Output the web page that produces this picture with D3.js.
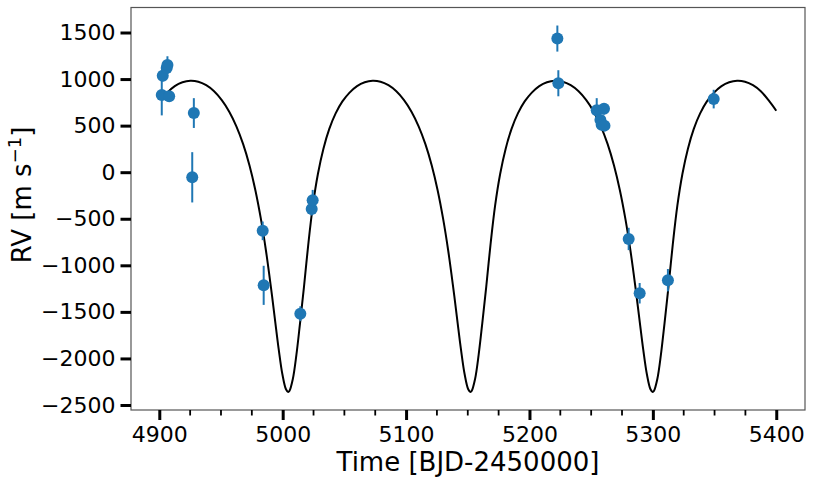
<!DOCTYPE html>
<html>
<head>
<meta charset="utf-8">
<script src="https://cdn.jsdelivr.net/npm/d3@7/dist/d3.min.js"></script>
<style>
  body { margin: 0; background: #fff; }
  text { font-family: "DejaVu Sans", sans-serif; fill: #000; }
</style>
</head>
<body>
<div id="chart"></div>
<script>
// observations: time (BJD-2450000), RV (m/s), error (m/s)
const obsTime = [4902.0, 4902.8, 4906.0, 4906.6, 4908.0, 4928.0, 4926.7, 4983.8, 4984.6,
                 5014.3, 5023.5, 5024.3, 5222.6, 5223.4, 5254.5, 5260.4, 5257.5, 5258.5,
                 5260.8, 5280.4, 5289.3, 5312.2, 5349.3];
const obsRV = [830, 1035, 1120, 1150, 815, 635, -55, -630, -1215,
               -1520, -395, -300, 1435, 955, 665, 680, 560, 510,
               500, -717, -1300, -1160, 785];
const obsErr = [220, 60, 60, 95, 50, 160, 270, 100, 210,
                80, 70, 110, 140, 140, 130, 60, 60, 60,
                60, 120, 110, 120, 100];

// model curve
const modelTime = [
  4902.00, 4906.50, 4912.54, 4918.78, 4925.16, 4931.59,
  4938.02, 4944.40, 4950.64, 4956.68, 4962.47, 4967.96, 4973.11, 4977.91, 4982.34, 4986.43,
  4990.17, 4993.62, 4996.81, 4999.80, 5002.66, 5004.44, 5005.44, 5008.22, 5011.08, 5014.07,
  5017.26, 5020.71, 5024.45, 5028.54, 5032.97, 5037.77, 5042.92, 5048.41, 5054.20, 5060.24,
  5066.48, 5072.86, 5079.29,
  5085.72, 5092.10, 5098.34, 5104.38, 5110.17, 5115.66, 5120.81, 5125.61, 5130.04, 5134.13,
  5137.87, 5141.32, 5144.51, 5147.50, 5150.36, 5152.14, 5153.14, 5155.92, 5158.78, 5161.77,
  5164.96, 5168.41, 5172.15, 5176.24, 5180.67, 5185.47, 5190.62, 5196.11, 5201.90, 5207.94,
  5214.18, 5220.56, 5226.99,
  5233.42, 5239.80, 5246.04, 5252.08, 5257.87, 5263.36, 5268.51, 5273.31, 5277.74, 5281.83,
  5285.57, 5289.02, 5292.21, 5295.20, 5298.06, 5299.84, 5300.84, 5303.62, 5306.48, 5309.47,
  5312.66, 5316.11, 5319.85, 5323.94, 5328.37, 5333.17, 5338.32, 5343.81, 5349.60, 5355.64,
  5361.88, 5368.26, 5374.69,
  5381.12, 5387.50, 5393.74, 5400.00
];
const modelRV = [
  781, 855, 925, 966, 982, 972,
  934, 869, 774, 650, 493, 301, 72, -196, -502, -841,
  -1204, -1569, -1905, -2173, -2331, -2360, -2350, -2221, -1965, -1620,
  -1232, -780, -360, -20, 250, 465, 632, 760, 855, 925,
  966, 982, 972,
  934, 869, 774, 650, 493, 301, 72, -196, -502, -841,
  -1204, -1569, -1905, -2173, -2331, -2360, -2350, -2221, -1965, -1620,
  -1232, -780, -360, -20, 250, 465, 632, 760, 855, 925,
  966, 982, 972,
  934, 869, 774, 650, 493, 301, 72, -196, -502, -841,
  -1204, -1569, -1905, -2173, -2331, -2360, -2350, -2221, -1965, -1620,
  -1232, -780, -360, -20, 250, 465, 632, 760, 855, 925,
  966, 982, 972,
  934, 869, 774, 660
];

const xTicks = [4900, 5000, 5100, 5200, 5300, 5400];
const xMinorTicks = d3.range(4900, 5425, 25).filter(d => d % 100 !== 0);
const yTicks = [1500, 1000, 500, 0, -500, -1000, -1500, -2000, -2500];

const obs = obsTime.map((t, i) => ({ t: t, v: obsRV[i], e: obsErr[i] }));
const model = modelTime.map((t, i) => ({ t: t, v: modelRV[i] }));

const W = 814, H = 485;
const margin = { top: 7.5, right: 9, bottom: 75, left: 131 };

const x = d3.scaleLinear([4877.07, 5423.3], [margin.left, W - margin.right]);
const y = d3.scaleLinear([-2553.7, 1768.5], [H - margin.bottom, margin.top]);

const svg = d3.select('#chart')
  .append('svg')
  .attr('width', W)
  .attr('height', H);

// model line
const line = d3.line()
  .x(d => x(d.t))
  .y(d => y(d.v))
  .curve(d3.curveCatmullRom.alpha(0.5));

svg.append('path')
  .datum(model)
  .attr('d', line)
  .attr('fill', 'none')
  .attr('stroke', '#000')
  .attr('stroke-width', 2);

// error bars
svg.append('g')
  .selectAll('line')
  .data(obs)
  .join('line')
  .attr('x1', d => x(d.t))
  .attr('x2', d => x(d.t))
  .attr('y1', d => y(d.v - d.e))
  .attr('y2', d => y(d.v + d.e))
  .attr('stroke', '#1f77b4')
  .attr('stroke-width', 2);

// points
svg.append('g')
  .selectAll('circle')
  .data(obs)
  .join('circle')
  .attr('cx', d => x(d.t))
  .attr('cy', d => y(d.v))
  .attr('r', 6)
  .attr('fill', '#1f77b4');

// frame
svg.append('rect')
  .attr('x', margin.left)
  .attr('y', margin.top)
  .attr('width', W - margin.right - margin.left)
  .attr('height', H - margin.bottom - margin.top)
  .attr('fill', 'none')
  .attr('stroke', '#555')
  .attr('stroke-width', 1.2);

// x axis
const xAxis = svg.append('g')
  .attr('transform', `translate(0,${H - margin.bottom})`)
  .call(d3.axisBottom(x).tickValues(xTicks).tickSize(10).tickPadding(6).tickFormat(d3.format('d')));
xAxis.select('.domain').remove();
xAxis.selectAll('.tick line').attr('stroke-width', 3);
xAxis.selectAll('.tick text').style('font-size', '22px');

svg.append('g')
  .attr('transform', `translate(0,${H - margin.bottom})`)
  .selectAll('line')
  .data(xMinorTicks)
  .join('line')
  .attr('x1', d => x(d))
  .attr('x2', d => x(d))
  .attr('y1', 0)
  .attr('y2', 5.5)
  .attr('stroke', '#000')
  .attr('stroke-width', 1.8);

// y axis
const yAxis = svg.append('g')
  .attr('transform', `translate(${margin.left},0)`)
  .call(d3.axisLeft(y).tickValues(yTicks).tickSize(10.5).tickPadding(5)
    .tickFormat(d => d3.format('d')(d).replace('-', '\u2212')));
yAxis.select('.domain').remove();
yAxis.selectAll('.tick line').attr('stroke-width', 3);
yAxis.selectAll('.tick text').style('font-size', '22px');

// axis labels
svg.append('text')
  .attr('x', (margin.left + W - margin.right) / 2)
  .attr('y', 471)
  .attr('text-anchor', 'middle')
  .style('font-size', '26px')
  .text('Time [BJD-2450000]');

const yLabel = svg.append('text')
  .attr('transform', 'translate(31,195) rotate(-90)')
  .attr('text-anchor', 'middle')
  .style('font-size', '26px');
yLabel.append('tspan').text('RV [m s');
yLabel.append('tspan').attr('dy', -10).style('font-size', '18px').text('\u22121');
yLabel.append('tspan').attr('dy', 10).text(']');
</script>
</body>
</html>
